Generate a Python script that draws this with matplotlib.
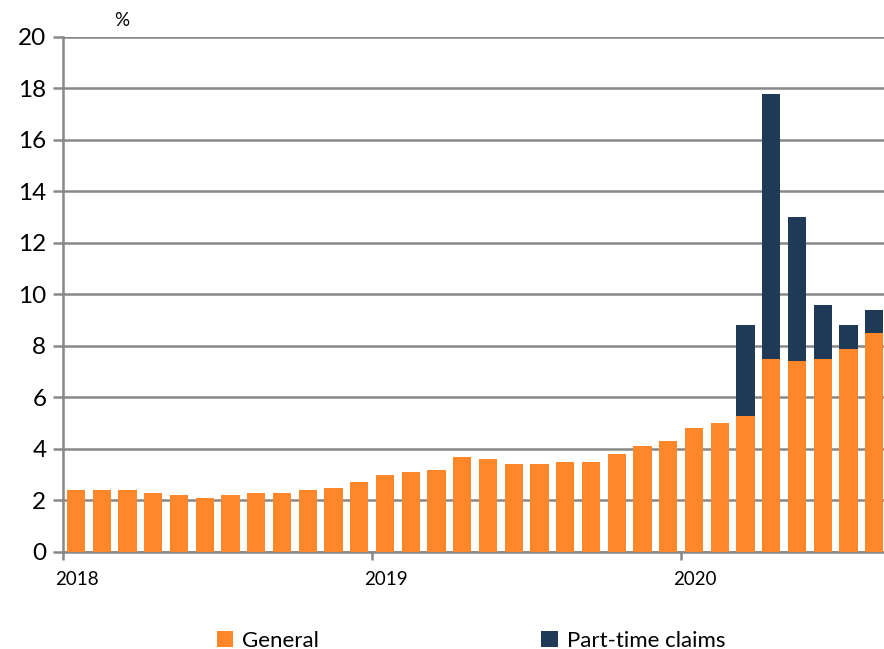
import matplotlib.pyplot as plt
import matplotlib.transforms as mtransforms
import numpy as np

plt.rcParams['font.family'] = ['Lato', 'DejaVu Sans']

# monthly, Jan 2018 .. Aug 2020
general = [2.4, 2.4, 2.4, 2.3, 2.2, 2.1, 2.2, 2.3, 2.3, 2.4, 2.5, 2.7,
           3.0, 3.1, 3.2, 3.7, 3.6, 3.4, 3.4, 3.5, 3.5, 3.8, 4.1, 4.3,
           4.8, 5.0, 5.3, 7.5, 7.4, 7.5, 7.9, 8.5]
part_time = [0] * 26 + [3.5, 10.3, 5.6, 2.1, 0.9, 0.9]
year_labels = ['2018', '2019', '2020']
year_pos = [0, 12, 24]

orange = '#FF8629'
navy = '#1F3A57'
grey = '#888888'

fig = plt.figure(figsize=(8.84, 6.49), dpi=100)
ax = fig.add_axes([0.0713, 0.1495, 0.9287, 0.7935])

x = np.arange(len(general)) + 0.5
ax.bar(x, general, width=0.71, color=orange, label='General', zorder=3)
ax.bar(x, part_time, width=0.71, bottom=general, color=navy,
       label='Part-time claims', zorder=3)

ax.set_xlim(0, 31.88)
ax.set_ylim(0, 20)
ax.set_yticks(range(0, 21, 2))
ax.yaxis.grid(True, color=grey, linewidth=1.8, zorder=0)
ax.set_axisbelow(True)

for s in ['top', 'right']:
    ax.spines[s].set_visible(False)
for s in ['left', 'bottom']:
    ax.spines[s].set_color(grey)
    ax.spines[s].set_linewidth(1.8)

ax.tick_params(axis='y', length=7, width=1.8, color=grey, labelsize=17.5,
               pad=5)
ax.set_xticks(year_pos)
ax.set_xticklabels(year_labels)
ax.tick_params(axis='x', length=6, width=1.8, color=grey, labelsize=13.5,
               pad=8)
offset = mtransforms.ScaledTranslation(0.14, 0, fig.dpi_scale_trans)
for lab in ax.get_xticklabels():
    lab.set_transform(lab.get_transform() + offset)

fig.text(0.138, 0.968, '%', fontsize=13.5, ha='center', va='center')

fig.legend(loc='center', bbox_to_anchor=(0.533, 0.013), ncol=2, frameon=False,
           fontsize=16, handlelength=0.75, handleheight=0.75,
           columnspacing=10.0, handletextpad=0.4)

fig.savefig('out.png', dpi=100)
